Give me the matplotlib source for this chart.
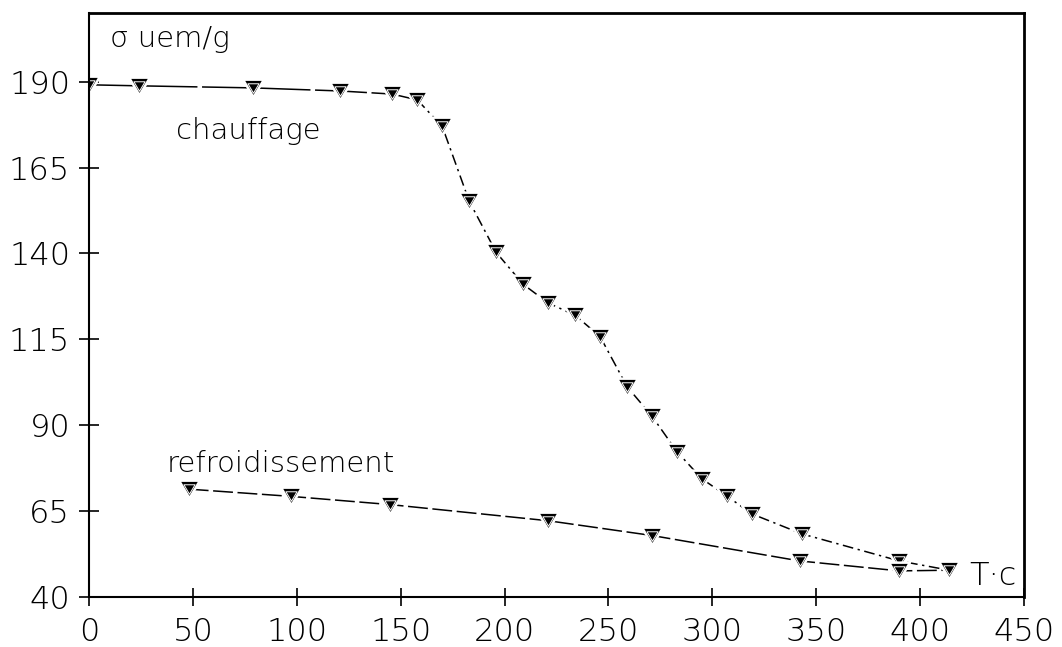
import matplotlib
matplotlib.use("Agg")
import matplotlib.pyplot as plt
import numpy as np
from matplotlib.path import Path

# Magnetisation (uem/g) versus temperature (°C)
heat_T = [0, 24, 79, 121, 146, 158, 170, 183, 196, 209, 221, 234, 246, 259,
          271, 283, 295, 307, 319, 343, 390, 414]
heat_sigma = [189.1, 188.8, 188.2, 187.3, 186.4, 184.7, 177.0, 155.2, 140.3,
              131.0, 125.6, 122.0, 115.8, 101.2, 92.6, 82.3, 74.4, 69.4, 64.2,
              58.4, 50.5, 47.8]

cool_T = [48, 97, 145, 221, 271, 342, 390, 414]
cool_sigma = [71.4, 69.3, 66.9, 62.2, 57.9, 50.5, 47.6, 47.8]

x_ticks = [0, 50, 100, 150, 200, 250, 300, 350, 400, 450]
y_ticks = [40, 65, 90, 115, 140, 165, 190]

plt.rcParams["font.family"] = ["DejaVu Sans"]

fig = plt.figure(figsize=(10.62, 6.47), dpi=100)
ax = fig.add_axes([89 / 1062, 1 - 597 / 647, (1024 - 89) / 1062, (597 - 13) / 647])

# slightly flattened inverted triangle marker
tri = Path([(-1.0, 0.85), (1.0, 0.85), (0.0, -0.85), (-1.0, 0.85)],
           [Path.MOVETO, Path.LINETO, Path.LINETO, Path.CLOSEPOLY])

lw = 1.1
# heating: flat part in long dashes, steep drop in dash-dot
split = 5
ax.plot(heat_T[:split + 1], heat_sigma[:split + 1], color="black", lw=lw,
        linestyle=(0, (34, 3)))
ax.plot(heat_T[split:], heat_sigma[split:], color="black", lw=lw,
        linestyle=(0, (7, 3, 1.5, 3)))
# cooling
ax.plot(cool_T, cool_sigma, color="black", lw=lw, linestyle=(0, (13, 3)))

for T, s in ((heat_T, heat_sigma), (cool_T, cool_sigma)):
    ax.plot(T, s, linestyle="none", marker=tri, markersize=15,
            markerfacecolor="black", markeredgecolor="white", markeredgewidth=1.8)
    ax.plot(T, s, linestyle="none", marker=tri, markersize=8,
            markerfacecolor="none", markeredgecolor="white", markeredgewidth=0.7)

ax.set_xlim(0, 450)
ax.set_ylim(40, 210)
ax.set_xticks(x_ticks)
ax.set_yticks(y_ticks)

tick_font = dict(fontsize=23, fontweight="light")
ax.set_xticklabels([str(v) for v in x_ticks], **tick_font)
ax.set_yticklabels([str(v) for v in y_ticks], **tick_font)
ax.tick_params(axis="y", direction="inout", length=15, width=1.2, pad=6, color="black")
ax.tick_params(axis="x", direction="inout", length=13, width=1.2, pad=8, color="black")

for side in ("left", "bottom"):
    ax.spines[side].set_linewidth(1.5)
for side in ("top", "right"):
    ax.spines[side].set_linewidth(2.0)

txt = dict(fontsize=21, fontweight="light", color="black", va="baseline", ha="left")
ax.text(10, 200.1, "σ uem/g", **txt)
ax.text(42, 173.4, "chauffage", **txt)
ax.text(37.5, 76.4, "refroidissement", **txt)
ax.text(423.5, 43.5, "T·c", fontsize=23, fontweight="light", color="black",
        va="baseline", ha="left")

fig.savefig("out.png", dpi=100, facecolor="white")
